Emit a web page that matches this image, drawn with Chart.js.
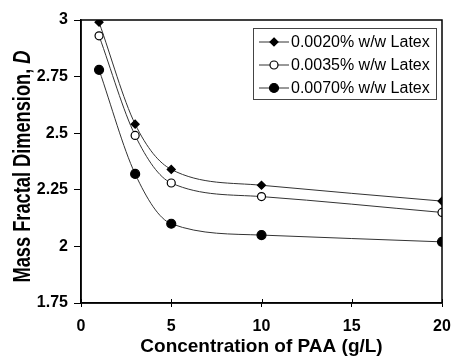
<!DOCTYPE html>
<html>
<head>
    <title>fractal dimension</title>
    <script src="https://cdn.jsdelivr.net/npm/chart.js"></script>
    <style>
        body { margin: 0; background: #fff; }
        #wrap { width: 451px; height: 358px; }
    </style>
</head>
<body>
    <div id="wrap"><canvas id="myChart" width="451" height="358"></canvas></div>
    <script>
        // PAA concentration (g/L)
        const paaConc = [1, 3, 5, 10, 20];
        const seriesLabels = ['0.0020% w/w Latex', '0.0035% w/w Latex', '0.0070% w/w Latex'];
        const latex0020 = [2.99, 2.54, 2.34, 2.27, 2.20];
        const latex0035 = [2.93, 2.49, 2.28, 2.22, 2.15];
        const latex0070 = [2.78, 2.32, 2.10, 2.05, 2.02];
        const xTicks = [0, 5, 10, 15, 20];
        const yTicks = [1.75, 2, 2.25, 2.5, 2.75, 3];

        const FONT = '"Liberation Sans", Arial, sans-serif';

        function pts(vals) {
            return vals.map((v, i) => ({ x: paaConc[i], y: v }));
        }

        const styles = [
            { pointStyle: 'rectRot', radius: 4, bg: '#000' },
            { pointStyle: 'circle', radius: 4, bg: '#fff' },
            { pointStyle: 'circle', radius: 4.5, bg: '#000' }
        ];
        const allVals = [latex0020, latex0035, latex0070];

        const datasets = allVals.map((vals, i) => ({
            label: seriesLabels[i],
            data: pts(vals),
            borderColor: '#333',
            borderWidth: 1,
            cubicInterpolationMode: 'monotone',
            pointStyle: styles[i].pointStyle,
            pointRadius: styles[i].radius,
            pointBackgroundColor: styles[i].bg,
            pointBorderColor: '#000',
            pointBorderWidth: 1.2,
            fill: false
        }));

        // box around plot, inner x ticks, y title and legend
        const frameAndLegend = {
            id: 'frameAndLegend',
            afterDatasetsDraw(chart) {
                const c = chart.ctx;
                const a = chart.chartArea;
                c.save();
                c.strokeStyle = '#000';
                c.lineWidth = 1.5;
                c.strokeRect(a.left, a.top, a.right - a.left, a.bottom - a.top);

                // x ticks also poke inside the plot
                c.lineWidth = 1;
                xTicks.forEach(v => {
                    const px = Math.round(chart.scales.x.getPixelForValue(v)) + 0.5;
                    c.beginPath();
                    c.moveTo(px, a.bottom);
                    c.lineTo(px, a.bottom - 4);
                    c.stroke();
                });

                // y axis title (condensed, larger letters)
                c.save();
                c.translate(23, (a.top + a.bottom) / 2 + 5);
                c.rotate(-Math.PI / 2);
                c.textBaseline = 'middle';
                const t1 = 'Mass Fractal Dimension, ';
                c.font = 'bold 24px ' + FONT;
                const w1 = c.measureText(t1).width;
                c.font = 'italic bold 24px ' + FONT;
                const w2 = c.measureText('D').width;
                const sx = 232 / (w1 + w2);
                c.scale(sx, 1);
                c.fillStyle = '#000';
                c.textAlign = 'left';
                c.font = 'bold 24px ' + FONT;
                c.fillText(t1, -(w1 + w2) / 2, 0);
                c.font = 'italic bold 24px ' + FONT;
                c.fillText('D', -(w1 + w2) / 2 + w1, 0);
                c.restore();

                // legend box
                const bx = 253, by = 28, bw = 183, bh = 71;
                c.fillStyle = '#fff';
                c.fillRect(bx, by, bw, bh);
                c.lineWidth = 1;
                c.strokeStyle = '#444';
                c.strokeRect(bx + 0.5, by + 0.5, bw, bh);
                c.font = '16px ' + FONT;
                c.textBaseline = 'middle';
                c.textAlign = 'left';
                chart.data.datasets.forEach((ds, i) => {
                    const y = 42 + i * 23;
                    c.strokeStyle = '#333';
                    c.lineWidth = 1;
                    c.beginPath();
                    c.moveTo(259, y);
                    c.lineTo(289, y);
                    c.stroke();
                    c.fillStyle = ds.pointBackgroundColor;
                    c.strokeStyle = '#000';
                    c.lineWidth = ds.pointBorderWidth;
                    c.beginPath();
                    const r = ds.pointRadius;
                    if (ds.pointStyle === 'rectRot') {
                        c.moveTo(274, y - r); c.lineTo(274 + r, y); c.lineTo(274, y + r); c.lineTo(274 - r, y); c.closePath();
                    } else {
                        c.arc(274, y, r, 0, Math.PI * 2);
                    }
                    c.fill();
                    c.stroke();
                    c.fillStyle = '#000';
                    c.fillText(ds.label, 291, y + 1);
                });
                c.restore();
            }
        };

        const ctx = document.getElementById('myChart').getContext('2d');
        new Chart(ctx, {
            type: 'line',
            data: { datasets: datasets },
            options: {
                responsive: false,
                animation: false,
                layout: { padding: { top: 20, right: 9, left: 0, bottom: 0 } },
                plugins: {
                    legend: { display: false },
                    tooltip: { enabled: false }
                },
                scales: {
                    x: {
                        type: 'linear',
                        min: 0,
                        max: 20,
                        afterBuildTicks: (s) => { s.ticks = xTicks.map(v => ({ value: v })); },
                        afterFit: (s) => { s.height = 55; s.paddingLeft = 0; s.paddingRight = 0; },
                        border: { display: true, color: '#000', width: 1.5 },
                        grid: { display: true, drawOnChartArea: false, drawTicks: true, tickLength: 4, color: '#000' },
                        ticks: {
                            color: '#000',
                            padding: 10,
                            maxRotation: 0,
                            font: { family: FONT, size: 16, weight: 'bold' }
                        },
                        title: {
                            display: true,
                            text: 'Concentration of PAA (g/L)',
                            color: '#000',
                            padding: { top: 0, bottom: 0 },
                            font: { family: FONT, size: 19, weight: 'bold' }
                        }
                    },
                    y: {
                        type: 'linear',
                        min: 1.75,
                        max: 3,
                        afterBuildTicks: (s) => { s.ticks = yTicks.map(v => ({ value: v })); },
                        afterFit: (s) => { s.width = 81; s.paddingTop = 0; s.paddingBottom = 0; },
                        border: { display: true, color: '#000', width: 1.5 },
                        grid: { display: true, drawOnChartArea: false, drawTicks: true, tickLength: 7, color: '#000' },
                        ticks: {
                            color: '#000',
                            padding: 6,
                            font: { family: FONT, size: 16, weight: 'bold' },
                            callback: (v) => String(v)
                        },
                        title: { display: false }
                    }
                }
            },
            plugins: [frameAndLegend]
        });
    </script>
</body>
</html>
